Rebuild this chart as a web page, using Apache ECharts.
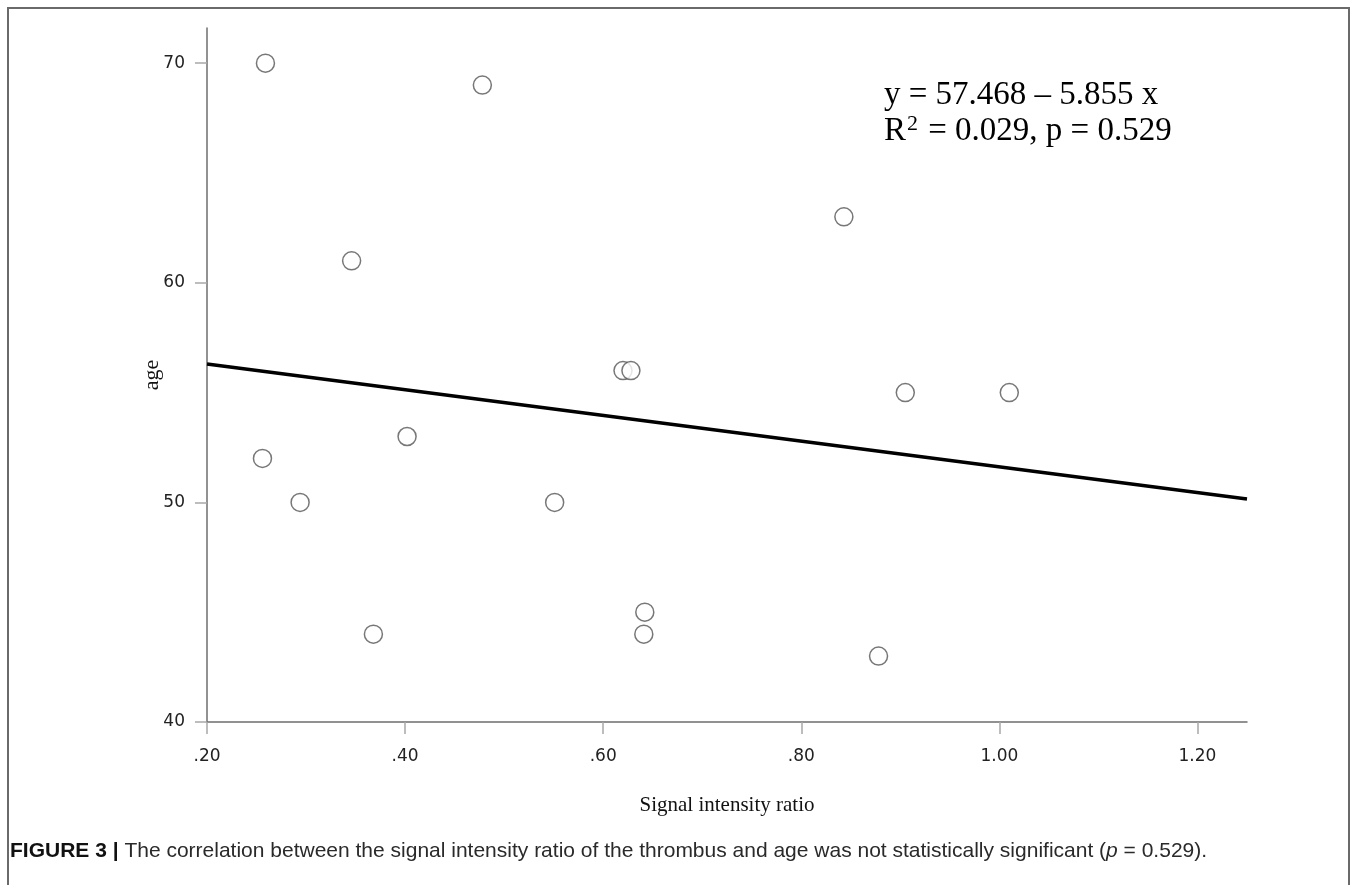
<!DOCTYPE html>
<html>
<head>
<meta charset="utf-8">
<script src="https://cdn.jsdelivr.net/npm/echarts@6/dist/echarts.min.js"></script>
<style>
  html, body { margin: 0; padding: 0; background: #fff; }
  #chart { width: 1357px; height: 885px; }
</style>
</head>
<body>
<div id="chart"></div>
<script>
// 散点数据 (信号强度比, 年龄)
var ratio = [0.259, 0.478, 0.843, 0.346, 0.620, 0.628, 0.905, 1.010, 0.402, 0.256, 0.294, 0.551, 0.642, 0.641, 0.368, 0.878];
var age   = [70,    69,    63,    61,    56,    56,    55,    55,    53,    52,    50,    50,    45,    44,    44,    43];

// 回归线两端
var fitX = [0.20, 1.25];
var fitY = [56.30, 50.15];

var xTicks = ['.20', '.40', '.60', '.80', '1.00', '1.20'];
var yTicks = ['40', '50', '60', '70'];

var points = [];
for (var i = 0; i < ratio.length; i++) {
    points.push([ratio[i], age[i]]);
}
var fitLine = [];
for (var j = 0; j < fitX.length; j++) {
    fitLine.push([fitX[j], fitY[j]]);
}

var myChart = echarts.init(document.getElementById('chart'));
var option = {
    backgroundColor: '#fff',
    animation: false,
    grid: { left: 207, right: 110, top: 28, bottom: 163 },
    xAxis: {
        type: 'value',
        min: 0.2,
        max: 1.25,
        interval: 0.2,
        name: 'Signal intensity ratio',
        nameLocation: 'middle',
        nameGap: 73,
        nameTextStyle: { fontFamily: 'Liberation Serif', fontSize: 21, color: '#111' },
        axisLine: { lineStyle: { color: '#6e6e6e', width: 1.5 } },
        axisTick: { length: 12, lineStyle: { color: '#a8a8a8', width: 1.5 } },
        axisLabel: {
            showMaxLabel: false,
            margin: 26,
            fontFamily: 'DejaVu Sans',
            fontSize: 17,
            color: '#222',
            formatter: function (v) {
                var idx = Math.round((v - 0.2) / 0.2);
                return xTicks[idx] || '';
            }
        },
        splitLine: { show: false }
    },
    yAxis: {
        type: 'value',
        min: 40,
        max: 71.6,
        interval: 10,
        name: 'age',
        nameLocation: 'middle',
        nameRotate: 90,
        nameGap: 44,
        nameMoveOverlap: false,
        nameTextStyle: { fontFamily: 'Liberation Serif', fontSize: 22, color: '#111' },
        axisLine: { show: true, lineStyle: { color: '#6e6e6e', width: 1.5 } },
        axisTick: { show: true, length: 12, lineStyle: { color: '#a8a8a8', width: 1.5 } },
        axisLabel: {
            showMaxLabel: false,
            margin: 22,
            fontFamily: 'DejaVu Sans',
            fontSize: 17,
            color: '#222',
            formatter: function (v) {
                var idx = Math.round((v - 40) / 10);
                return yTicks[idx] || '';
            }
        },
        splitLine: { show: false }
    },
    graphic: [
        {
            type: 'rect',
            shape: { x: 8, y: 8, width: 1341, height: 900 },
            style: { fill: 'none', stroke: '#6a6a6a', lineWidth: 2 },
            silent: true
        },
        {
            type: 'text',
            left: 884,
            top: 77,
            style: {
                text: 'y = 57.468 – 5.855 x\n{r|R}{s|2}{r| = 0.029, p = 0.529}',
                fontFamily: 'Liberation Serif',
                fontSize: 33,
                lineHeight: 36,
                fill: '#000',
                rich: {
                    r: { fontFamily: 'Liberation Serif', fontSize: 33, lineHeight: 36, fill: '#000' },
                    s: { fontFamily: 'Liberation Serif', fontSize: 22, lineHeight: 36, fill: '#000', verticalAlign: 'top', padding: [0, 2, 10, 1] }
                }
            }
        },
        {
            type: 'text',
            left: 10,
            top: 841,
            style: {
                text: '{b|FIGURE 3 |} The correlation between the signal intensity ratio of the thrombus and age was not statistically significant ({i|p} = 0.529).',
                fontFamily: 'Liberation Sans',
                fontSize: 21,
                fill: '#2a2a2a',
                rich: {
                    b: { fontFamily: 'Liberation Sans', fontWeight: 'bold', fontSize: 21, fill: '#111' },
                    i: { fontFamily: 'Liberation Sans', fontStyle: 'italic', fontSize: 21, fill: '#2a2a2a' }
                }
            }
        }
    ],
    series: [
        {
            name: 'fit',
            type: 'line',
            data: fitLine,
            symbol: 'none',
            lineStyle: { color: '#000', width: 3.5 },
            z: 2
        },
        {
            name: 'age',
            type: 'scatter',
            data: points,
            symbol: 'circle',
            symbolSize: 18,
            itemStyle: { color: '#fff', borderColor: '#555', borderWidth: 1.5 },
            z: 3
        }
    ]
};
myChart.setOption(option);
</script>
</body>
</html>
